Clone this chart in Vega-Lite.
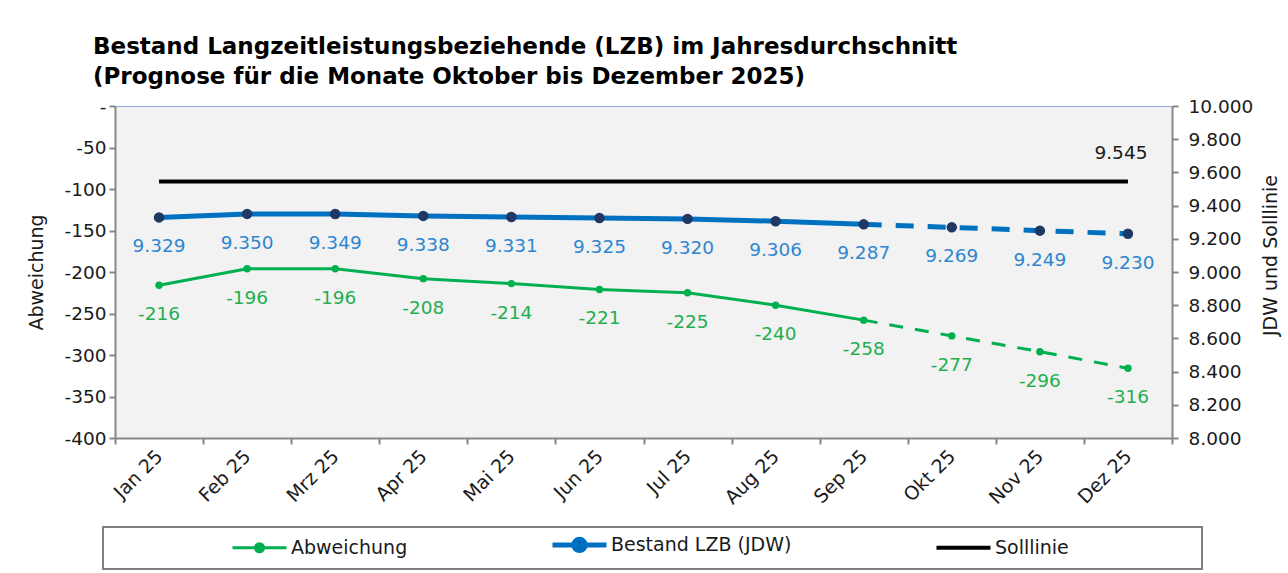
{
  "$schema": "https://vega.github.io/schema/vega-lite/v6.json",
  "autosize": {"type": "none"},
  "padding": {"left": 115, "top": 106, "right": 116, "bottom": 135},
  "width": 1057,
  "height": 332,
  "background": "white",
  "title": {
    "text": ["Bestand Langzeitleistungsbeziehende (LZB) im Jahresdurchschnitt", "(Prognose für die Monate Oktober bis Dezember 2025)"],
    "anchor": "start",
    "frame": "group",
    "dx": -22,
    "offset": 8,
    "font": "DejaVu Sans",
    "fontSize": 23,
    "fontWeight": "bold",
    "lineHeight": 30,
    "color": "#000000"
  },
  "data": {
    "values": [
      {"m": "Jan 25", "s": "Abweichung", "v": -216},
      {"m": "Feb 25", "s": "Abweichung", "v": -196},
      {"m": "Mrz 25", "s": "Abweichung", "v": -196},
      {"m": "Apr 25", "s": "Abweichung", "v": -208},
      {"m": "Mai 25", "s": "Abweichung", "v": -214},
      {"m": "Jun 25", "s": "Abweichung", "v": -221},
      {"m": "Jul 25", "s": "Abweichung", "v": -225},
      {"m": "Aug 25", "s": "Abweichung", "v": -240},
      {"m": "Sep 25", "s": "Abweichung", "v": -258},
      {"m": "Okt 25", "s": "Abweichung", "v": -277},
      {"m": "Nov 25", "s": "Abweichung", "v": -296},
      {"m": "Dez 25", "s": "Abweichung", "v": -316},
      {"m": "Jan 25", "s": "Bestand LZB (JDW)", "v": 9329},
      {"m": "Feb 25", "s": "Bestand LZB (JDW)", "v": 9350},
      {"m": "Mrz 25", "s": "Bestand LZB (JDW)", "v": 9349},
      {"m": "Apr 25", "s": "Bestand LZB (JDW)", "v": 9338},
      {"m": "Mai 25", "s": "Bestand LZB (JDW)", "v": 9331},
      {"m": "Jun 25", "s": "Bestand LZB (JDW)", "v": 9325},
      {"m": "Jul 25", "s": "Bestand LZB (JDW)", "v": 9320},
      {"m": "Aug 25", "s": "Bestand LZB (JDW)", "v": 9306},
      {"m": "Sep 25", "s": "Bestand LZB (JDW)", "v": 9287},
      {"m": "Okt 25", "s": "Bestand LZB (JDW)", "v": 9269},
      {"m": "Nov 25", "s": "Bestand LZB (JDW)", "v": 9249},
      {"m": "Dez 25", "s": "Bestand LZB (JDW)", "v": 9230},
      {"m": "Jan 25", "s": "Solllinie", "v": 9545},
      {"m": "Feb 25", "s": "Solllinie", "v": 9545},
      {"m": "Mrz 25", "s": "Solllinie", "v": 9545},
      {"m": "Apr 25", "s": "Solllinie", "v": 9545},
      {"m": "Mai 25", "s": "Solllinie", "v": 9545},
      {"m": "Jun 25", "s": "Solllinie", "v": 9545},
      {"m": "Jul 25", "s": "Solllinie", "v": 9545},
      {"m": "Aug 25", "s": "Solllinie", "v": 9545},
      {"m": "Sep 25", "s": "Solllinie", "v": 9545},
      {"m": "Okt 25", "s": "Solllinie", "v": 9545},
      {"m": "Nov 25", "s": "Solllinie", "v": 9545},
      {"m": "Dez 25", "s": "Solllinie", "v": 9545}
    ]
  },
  "encoding": {
    "x": {
      "field": "m",
      "type": "nominal",
      "sort": null,
      "scale": {"type": "band", "paddingInner": 0, "paddingOuter": 0},
      "axis": {
        "title": null,
        "labelAngle": -45,
        "labelAlign": "right",
        "labelBaseline": "middle",
        "tickBand": "extent",
        "labelPadding": 9,
        "tickSize": 6,
        "tickWidth": 2,
        "tickColor": "#878787",
        "domainColor": "#878787",
        "domainWidth": 2,
        "labelFontSize": 19,
        "labelColor": "#1a1a1a"
      }
    }
  },
  "layer": [
    {
      "transform": [{"filter": "datum.s === 'Abweichung'"}],
      "encoding": {
        "y": {
          "field": "v",
          "type": "quantitative",
          "scale": {"domain": [-400, 0], "nice": false, "zero": false},
          "axis": {
            "title": "Abweichung",
            "titleFontSize": 19,
            "titleFontWeight": "normal",
            "titleColor": "#1a1a1a",
            "titlePadding": 18,
            "values": [-400, -350, -300, -250, -200, -150, -100, -50, 0],
            "labelExpr": "datum.value === 0 ? '-' : datum.label",
            "grid": false,
            "tickSize": 6,
            "tickWidth": 2,
            "tickColor": "#878787",
            "domainColor": "#878787",
            "domainWidth": 2,
            "labelFontSize": 18.5,
            "labelPadding": 3,
            "labelColor": "#1a1a1a"
          }
        }
      },
      "layer": [
        {
          "transform": [{"filter": {"field": "m", "oneOf": ["Jan 25", "Feb 25", "Mrz 25", "Apr 25", "Mai 25", "Jun 25", "Jul 25", "Aug 25", "Sep 25"]}}],
          "mark": {"type": "line", "strokeWidth": 3},
          "encoding": {
            "color": {
              "field": "s",
              "type": "nominal",
              "scale": {"domain": ["Abweichung", "Bestand LZB (JDW)", "Solllinie"], "range": ["#00B050", "#0070C0", "#000000"]},
              "legend": {
                "title": " ",
                "titleOrient": "right",
                "titleFontSize": 1,
                "titlePadding": 125,
                "orient": "none",
                "legendX": -12,
                "legendY": 421,
                "direction": "horizontal",
                "columns": 3,
                "gridAlign": "each",
                "padding": 8,
                "symbolOffset": 139,
                "columnPadding": 23,
                "symbolSize": 2916,
                "symbolType": "stroke",
                "labelFont": "DejaVu Sans",
                "labelFontSize": 19,
                "labelColor": "#1a1a1a",
                "labelOffset": 22,
                "labelLimit": 400,
                "strokeColor": "#7F7F7F",
                "encode": {
                  "symbols": {
                    "update": {
                      "shape": {"signal": "datum.value === 'Solllinie' ? 'M-1,0H1' : (datum.value === 'Abweichung' ? 'M-1,0H1M0.15,0A0.15,0.15,0,1,1,-0.15,0A0.15,0.15,0,1,1,0.15,0Z' : 'M-1,0H1M0.21,0A0.21,0.21,0,1,1,-0.21,0A0.21,0.21,0,1,1,0.21,0Z')"},
                      "fill": {"signal": "datum.value === 'Bestand LZB (JDW)' ? '#1F3864' : (datum.value === 'Abweichung' ? '#00B050' : 'transparent')"},
                      "strokeWidth": {"signal": "datum.value === 'Bestand LZB (JDW)' ? 5 : (datum.value === 'Abweichung' ? 3 : 4)"},
                      "opacity": {"value": 1}
                    }
                  },
                  "legend": {"update": {"strokeWidth": {"value": 2}}}
                }
              }
            }
          }
        },
        {
          "transform": [{"filter": {"field": "m", "oneOf": ["Sep 25", "Okt 25", "Nov 25", "Dez 25"]}}],
          "mark": {"type": "line", "strokeWidth": 3, "strokeDash": [14, 12]},
          "encoding": {
            "color": {
              "field": "s",
              "type": "nominal",
              "scale": {"domain": ["Abweichung", "Bestand LZB (JDW)", "Solllinie"], "range": ["#00B050", "#0070C0", "#000000"]}
            }
          }
        },
        {
          "mark": {"type": "point", "filled": true, "size": 55, "color": "#00B050", "opacity": 1}
        },
        {
          "mark": {"type": "text", "dy": 29, "fontSize": 18.5, "color": "#1FAF50", "baseline": "middle"},
          "encoding": {"text": {"field": "v", "type": "quantitative", "format": "d"}}
        }
      ]
    },
    {
      "transform": [{"filter": "datum.s !== 'Abweichung'"}],
      "encoding": {
        "y": {
          "field": "v",
          "type": "quantitative",
          "scale": {"domain": [8000, 10000], "nice": false, "zero": false},
          "axis": {
            "orient": "right",
            "title": "JDW und Solllinie",
            "titleAngle": -90,
            "titleY": 149,
            "titleFontSize": 19,
            "titleFontWeight": "normal",
            "titleColor": "#1a1a1a",
            "titlePadding": 28,
            "values": [8000, 8200, 8400, 8600, 8800, 9000, 9200, 9400, 9600, 9800, 10000],
            "format": ",.0f",
            "grid": false,
            "tickSize": 6,
            "tickWidth": 2,
            "tickColor": "#878787",
            "domainColor": "#878787",
            "domainWidth": 2,
            "labelFontSize": 18.5,
            "labelPadding": 10,
            "labelColor": "#1a1a1a"
          }
        }
      },
      "layer": [
        {
          "transform": [
            {"filter": "datum.s === 'Bestand LZB (JDW)'"},
            {"filter": {"field": "m", "oneOf": ["Jan 25", "Feb 25", "Mrz 25", "Apr 25", "Mai 25", "Jun 25", "Jul 25", "Aug 25", "Sep 25"]}}
          ],
          "mark": {"type": "line", "strokeWidth": 5},
          "encoding": {
            "color": {
              "field": "s",
              "type": "nominal",
              "scale": {"domain": ["Abweichung", "Bestand LZB (JDW)", "Solllinie"], "range": ["#00B050", "#0070C0", "#000000"]}
            }
          }
        },
        {
          "transform": [
            {"filter": "datum.s === 'Bestand LZB (JDW)'"},
            {"filter": {"field": "m", "oneOf": ["Sep 25", "Okt 25", "Nov 25", "Dez 25"]}}
          ],
          "mark": {"type": "line", "strokeWidth": 5, "strokeDash": [18, 14]},
          "encoding": {
            "color": {
              "field": "s",
              "type": "nominal",
              "scale": {"domain": ["Abweichung", "Bestand LZB (JDW)", "Solllinie"], "range": ["#00B050", "#0070C0", "#000000"]}
            }
          }
        },
        {
          "transform": [{"filter": "datum.s === 'Solllinie'"}],
          "mark": {"type": "line", "strokeWidth": 4},
          "encoding": {
            "color": {
              "field": "s",
              "type": "nominal",
              "scale": {"domain": ["Abweichung", "Bestand LZB (JDW)", "Solllinie"], "range": ["#00B050", "#0070C0", "#000000"]}
            }
          }
        },
        {
          "transform": [{"filter": "datum.s === 'Bestand LZB (JDW)'"}],
          "mark": {"type": "point", "filled": true, "size": 110, "color": "#1F3864", "opacity": 1}
        },
        {
          "transform": [{"filter": "datum.s === 'Bestand LZB (JDW)'"}],
          "mark": {"type": "text", "dy": 29, "fontSize": 18.5, "color": "#2E86D0", "baseline": "middle"},
          "encoding": {"text": {"field": "v", "type": "quantitative", "format": ",.0f"}}
        },
        {
          "transform": [{"filter": "datum.s === 'Solllinie' && datum.m === 'Dez 25'"}],
          "mark": {"type": "text", "dy": -29, "dx": -7, "fontSize": 18.5, "color": "#1a1a1a", "baseline": "middle"},
          "encoding": {"text": {"field": "v", "type": "quantitative", "format": ",.0f"}}
        }
      ]
    }
  ],
  "resolve": {"scale": {"y": "independent"}},
  "config": {
    "font": "DejaVu Sans",
    "view": {"fill": "#F2F2F2", "stroke": "#8EA9DB", "strokeWidth": 1},
    "locale": {
      "number": {"decimal": ",", "thousands": ".", "grouping": [3], "currency": ["", " €"], "minus": "-"}
    }
  }
}
